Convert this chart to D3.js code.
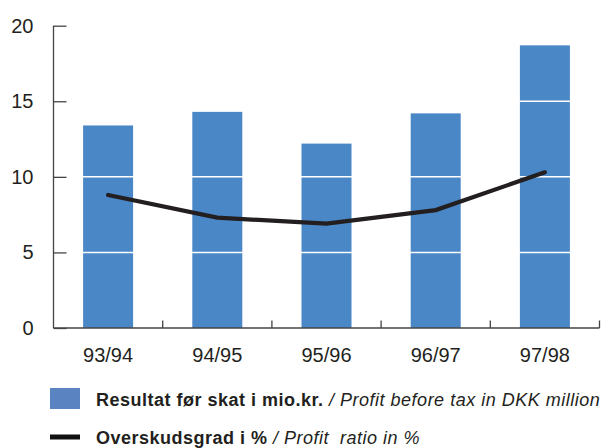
<!DOCTYPE html>
<html lang="da">
  <head>
    <meta charset="utf-8">
    <title>Resultat før skat</title>
    <script src="https://cdn.jsdelivr.net/npm/d3@7"></script>
    <style>
      body { margin: 0; background: #fff; }
      text { font-family: "Liberation Sans", Arial, sans-serif; fill: #231f20; }
      .axis path, .axis line { stroke: #444; stroke-width: 1.3px; }
      .axis text { font-size: 20px; }
    </style>
  </head>
  <body>
    <svg id="chart" width="603" height="448"></svg>
    <script>
      // data
      var years = ["93/94", "94/95", "95/96", "96/97", "97/98"];
      var profit = [13.4, 14.3, 12.2, 14.2, 18.7];      // mio. kr.
      var ratio = [8.8, 7.3, 6.9, 7.8, 10.3];           // %
      var yTicks = [0, 5, 10, 15, 20];

      var svg = d3.select("#chart");
      var plotLeft = 53.5, plotRight = 599.5, plotTop = 25.7, plotBottom = 328;

      var xc = d3.scaleBand().domain(years).range([plotLeft, plotRight]);
      var y = d3.scaleLinear().domain([0, 20]).range([plotBottom, plotTop]);
      var barW = 50;

      // bars
      svg.append("g").selectAll("rect")
        .data(profit)
        .enter().append("rect")
        .attr("x", function(d, i) { return xc(years[i]) + (xc.bandwidth() - barW) / 2; })
        .attr("width", barW)
        .attr("y", function(d) { return y(d); })
        .attr("height", function(d) { return y(0) - y(d); })
        .attr("fill", "#4a87c7");

      // white grid lines through the bars
      svg.append("g").selectAll("line")
        .data(yTicks.filter(function(t) { return t > 0 && t < 20; }))
        .enter().append("line")
        .attr("x1", plotLeft + 2).attr("x2", plotRight)
        .attr("y1", function(d) { return y(d); })
        .attr("y2", function(d) { return y(d); })
        .attr("stroke", "#fff")
        .attr("stroke-width", 1.5);

      // y axis
      var yAxis = svg.append("g").attr("class", "axis")
        .attr("transform", "translate(" + plotLeft + ",0)")
        .call(d3.axisRight(y).tickValues(yTicks).tickSize(13).tickSizeOuter(0).tickFormat(d3.format("d")));
      yAxis.selectAll("text").attr("x", -20).attr("text-anchor", "end").attr("fill", "#231f20");
      yAxis.select(".domain").attr("d", "M0," + plotTop + "V" + plotBottom);

      // x axis with ticks between categories pointing up
      var xAxis = svg.append("g").attr("class", "axis")
        .attr("transform", "translate(0," + plotBottom + ")");
      xAxis.append("line").attr("x1", plotLeft).attr("x2", plotRight).attr("y1", 0).attr("y2", 0);
      xAxis.selectAll(".sep")
        .data(years)
        .enter().append("line")
        .attr("class", "sep")
        .attr("x1", function(d) { return xc(d) + xc.bandwidth(); })
        .attr("x2", function(d) { return xc(d) + xc.bandwidth(); })
        .attr("y1", 0).attr("y2", -7.5);
      xAxis.selectAll("text")
        .data(years)
        .enter().append("text")
        .attr("x", function(d) { return xc(d) + xc.bandwidth() / 2; })
        .attr("y", 34)
        .attr("text-anchor", "middle")
        .text(function(d) { return d; });

      // ratio line
      var line = d3.line()
        .x(function(d, i) { return xc(years[i]) + xc.bandwidth() / 2; })
        .y(function(d) { return y(d); });
      svg.append("path")
        .datum(ratio)
        .attr("d", line)
        .attr("fill", "none")
        .attr("stroke", "#231f20")
        .attr("stroke-width", 4.2)
        .attr("stroke-linecap", "round");

      // legend
      var legend = svg.append("g").attr("font-size", 18).attr("letter-spacing", 0.5);
      legend.append("rect").attr("x", 50).attr("y", 388).attr("width", 30).attr("height", 21).attr("fill", "#5a84c1");
      legend.append("rect").attr("x", 50).attr("y", 434.5).attr("width", 30).attr("height", 5).attr("fill", "#111");

      var t1 = legend.append("text").attr("x", 96).attr("y", 406);
      t1.append("tspan").attr("font-weight", "bold").text("Resultat før skat i mio.kr.");
      t1.append("tspan").attr("font-style", "italic").text(" / Profit before tax in DKK million");

      var t2 = legend.append("text").attr("x", 96).attr("y", 443.5).attr("xml:space", "preserve");
      t2.append("tspan").attr("font-weight", "bold").text("Overskudsgrad i %");
      t2.append("tspan").attr("font-style", "italic").text(" / Profit  ratio in %");
    </script>
  </body>
</html>
